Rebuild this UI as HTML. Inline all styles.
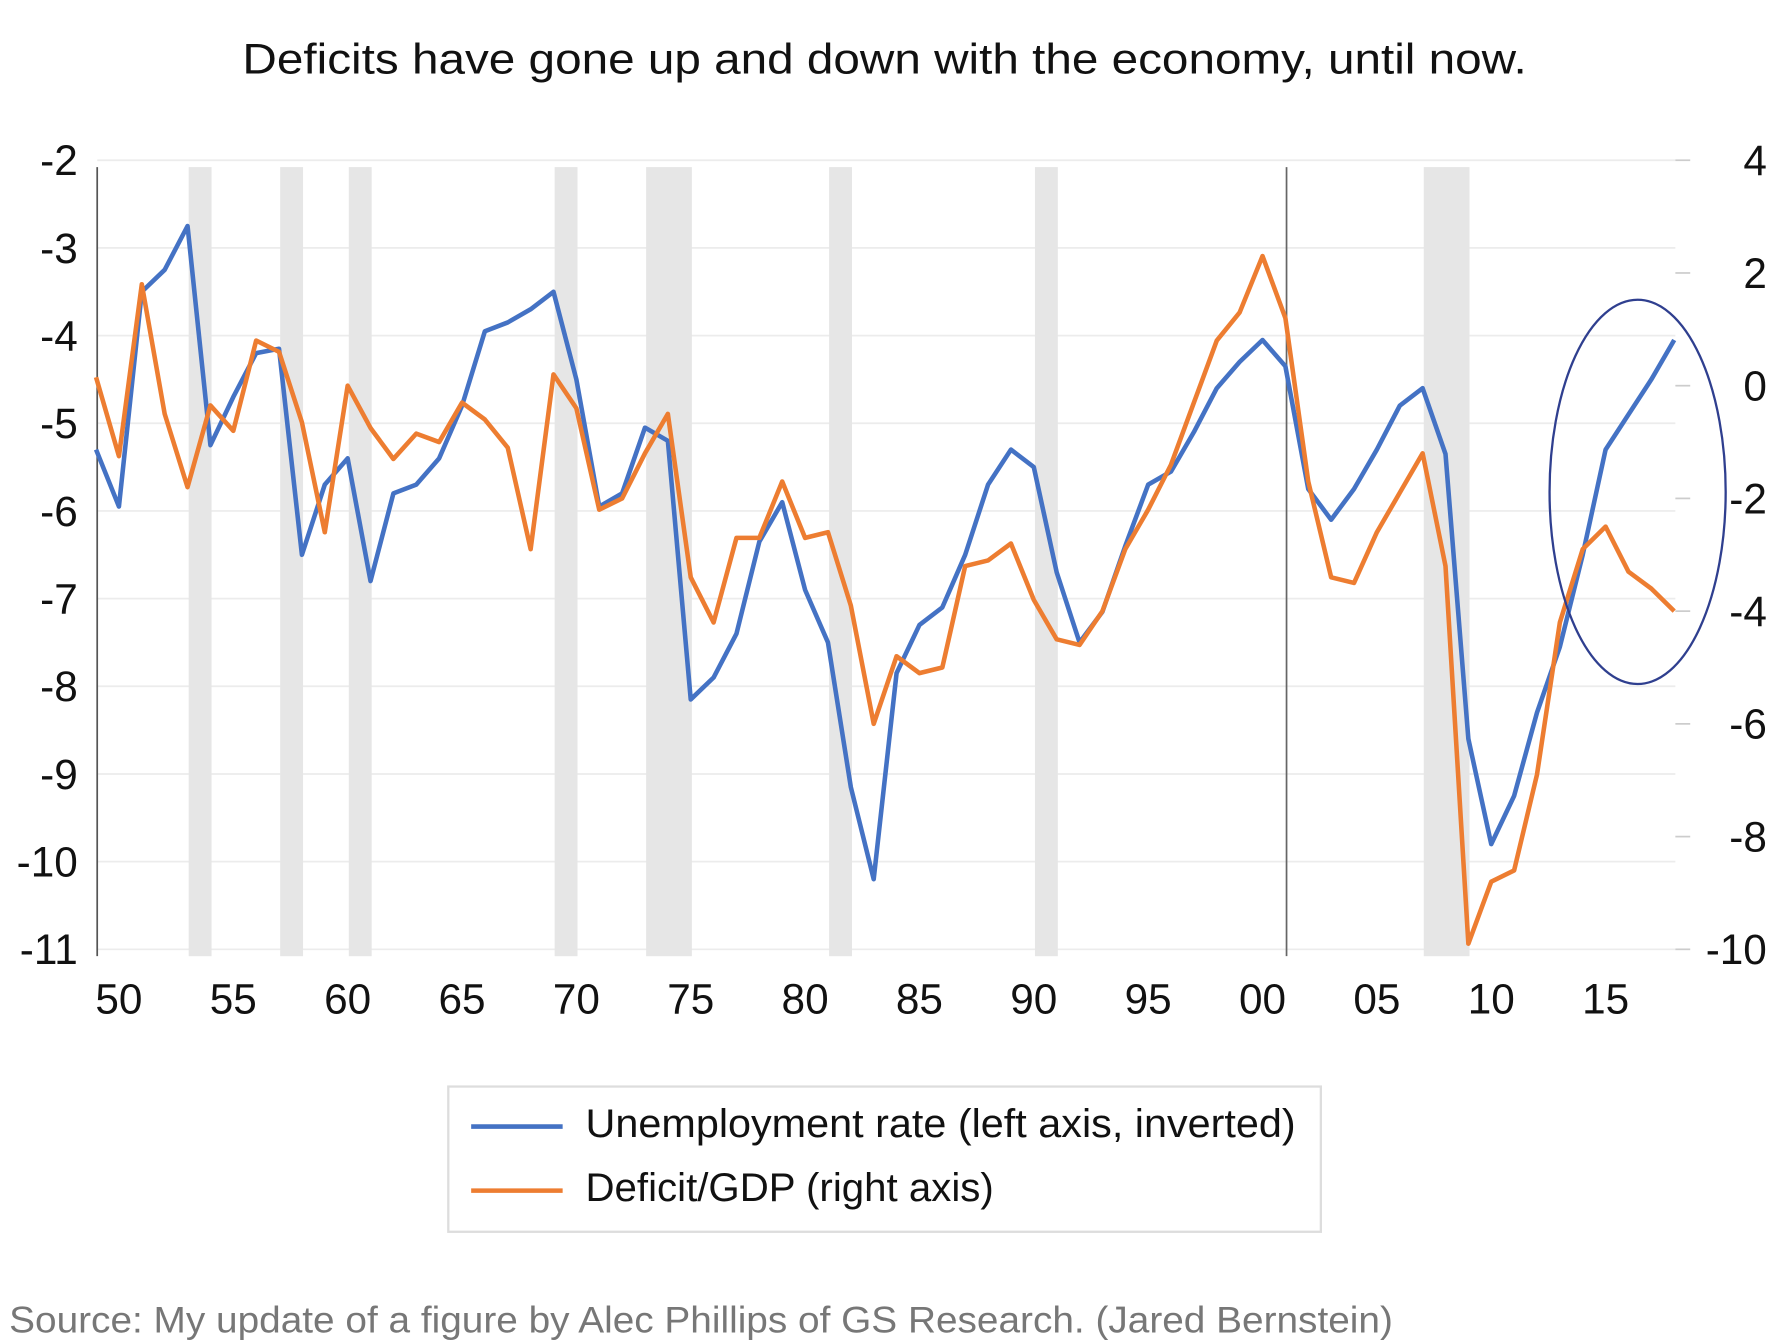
<!DOCTYPE html>
<html><head><meta charset="utf-8"><style>
html,body{margin:0;padding:0;background:#fff;width:1784px;height:1344px;overflow:hidden}
svg{display:block}
text{font-family:"Liberation Sans",sans-serif}
</style></head><body>
<svg id="chart" width="1784" height="1344" viewBox="0 0 1560 1175" xmlns="http://www.w3.org/2000/svg">
<text x="212" y="64" font-size="37" textLength="1123" lengthAdjust="spacingAndGlyphs" fill="#111">Deficits have gone up and down with the economy, until now.</text>
<g id="grid"></g><g id="rec"></g><g id="axes"></g><g id="lines"></g>
<ellipse cx="1432" cy="430" rx="77" ry="168" fill="none" stroke="#2f3f8f" stroke-width="2"/>
<g>
<rect x="392" y="950" width="763" height="127" fill="#fff" stroke="#ddd" stroke-width="2"/>
<line x1="412" y1="985" x2="492" y2="985" stroke="#4472c4" stroke-width="4"/>
<text x="512" y="994" font-size="35" textLength="621" lengthAdjust="spacingAndGlyphs" fill="#111">Unemployment rate (left axis, inverted)</text>
<line x1="412" y1="1041" x2="492" y2="1041" stroke="#ed7d31" stroke-width="4"/>
<text x="512" y="1050" font-size="35" textLength="357" lengthAdjust="spacingAndGlyphs" fill="#111">Deficit/GDP (right axis)</text>
</g>
<text x="8" y="1165" font-size="32" textLength="1210" lengthAdjust="spacingAndGlyphs" fill="#777">Source: My update of a figure by Alec Phillips of GS Research. (Jared Bernstein)</text>
</svg>
<script>
const years=[];for(let y=1949;y<=2018;y++)years.push(y);
const unemployment=[-5.3,-5.95,-3.5,-3.25,-2.75,-5.25,-4.7,-4.2,-4.15,-6.5,-5.7,-5.4,-6.8,-5.8,-5.7,-5.4,-4.8,-3.95,-3.85,-3.7,-3.5,-4.5,-5.95,-5.8,-5.05,-5.2,-8.15,-7.9,-7.4,-6.35,-5.9,-6.9,-7.5,-9.15,-10.2,-7.85,-7.3,-7.1,-6.5,-5.7,-5.3,-5.5,-6.7,-7.5,-7.15,-6.4,-5.7,-5.55,-5.1,-4.6,-4.3,-4.05,-4.35,-5.75,-6.1,-5.75,-5.3,-4.8,-4.6,-5.35,-8.6,-9.8,-9.25,-8.3,-7.55,-6.5,-5.3,-4.9,-4.5,-4.05];
const deficit=[0.15,-1.25,1.8,-0.5,-1.8,-0.35,-0.8,0.8,0.6,-0.65,-2.6,0,-0.75,-1.3,-0.85,-1.0,-0.3,-0.6,-1.1,-2.9,0.2,-0.4,-2.2,-2.0,-1.2,-0.5,-3.4,-4.2,-2.7,-2.7,-1.7,-2.7,-2.6,-3.9,-6.0,-4.8,-5.1,-5.0,-3.2,-3.1,-2.8,-3.8,-4.5,-4.6,-4.0,-2.9,-2.2,-1.4,-0.3,0.8,1.3,2.3,1.2,-1.7,-3.4,-3.5,-2.6,-1.9,-1.2,-3.2,-9.9,-8.8,-8.6,-6.9,-4.2,-2.9,-2.5,-3.3,-3.6,-4.0];
const recessionStart=[1953,1957,1960,1969,1973,1981,1990,2007];
const recessionEnd=[1954,1958,1961,1970,1975,1982,1991,2009];
const leftTicks=[-2,-3,-4,-5,-6,-7,-8,-9,-10,-11];
const rightTicks=[4,2,0,-2,-4,-6,-8,-10];
const xTicks=[1950,1955,1960,1965,1970,1975,1980,1985,1990,1995,2000,2005,2010,2015];
const xS=y=>104+(y-1950)*20;
const yL=v=>140+(-2-v)*(690/9);
const yR=v=>140+(4-v)*(690/14);
const NS="http://www.w3.org/2000/svg";
function mk(tag,attrs,parent,txt){const e=document.createElementNS(NS,tag);for(const k in attrs)e.setAttribute(k,attrs[k]);if(txt!==undefined)e.textContent=txt;document.getElementById(parent).appendChild(e);return e;}
leftTicks.forEach(v=>{
 const g=mk('line',{x1:85,x2:1465,y1:yL(v),y2:yL(v),stroke:'#ececec','stroke-width':1.5},'grid');
 
 
 const t=mk('text',{x:68,y:yL(v)+13,'font-size':37,'text-anchor':'end',fill:'#111'},'axes',String(v));
 
 
});
rightTicks.forEach(v=>{
 const d=mk('line',{x1:1465,x2:1478,y1:yR(v),y2:yR(v),stroke:'#ccc','stroke-width':1.5},'axes');
 
 
 const t=mk('text',{x:1545,y:yR(v)+13,'font-size':37,'text-anchor':'end',fill:'#111'},'axes',String(v));
 
 
});
recessionStart.forEach((s,i)=>{
 const r=mk('rect',{x:xS(s)+1,y:146,width:xS(recessionEnd[i])-xS(s),height:690,fill:'#e6e6e6'},'rec');
 
 
});
xTicks.forEach(y=>{
 const t=mk('text',{x:xS(y),y:886,'font-size':37,'text-anchor':'middle',fill:'#111'},'axes',String(y%100).padStart(2,'0'));
 
 
});
const ax=mk('line',{x1:85,x2:85,y1:146,y2:836,stroke:'#555','stroke-width':1.5},'axes');


const v2=mk('line',{x1:xS(2001)+1,x2:xS(2001)+1,y1:146,y2:836,stroke:'#666','stroke-width':1.5},'axes');


const pb=mk('polyline',{points:years.map((y,i)=>xS(y)+','+yL(unemployment[i])).join(' '),fill:'none',stroke:'#4472c4','stroke-width':4,'stroke-linejoin':'round'},'lines');


const po=mk('polyline',{points:years.map((y,i)=>xS(y)+','+yR(deficit[i])).join(' '),fill:'none',stroke:'#ed7d31','stroke-width':4,'stroke-linejoin':'round'},'lines');


</script>
</body></html>
